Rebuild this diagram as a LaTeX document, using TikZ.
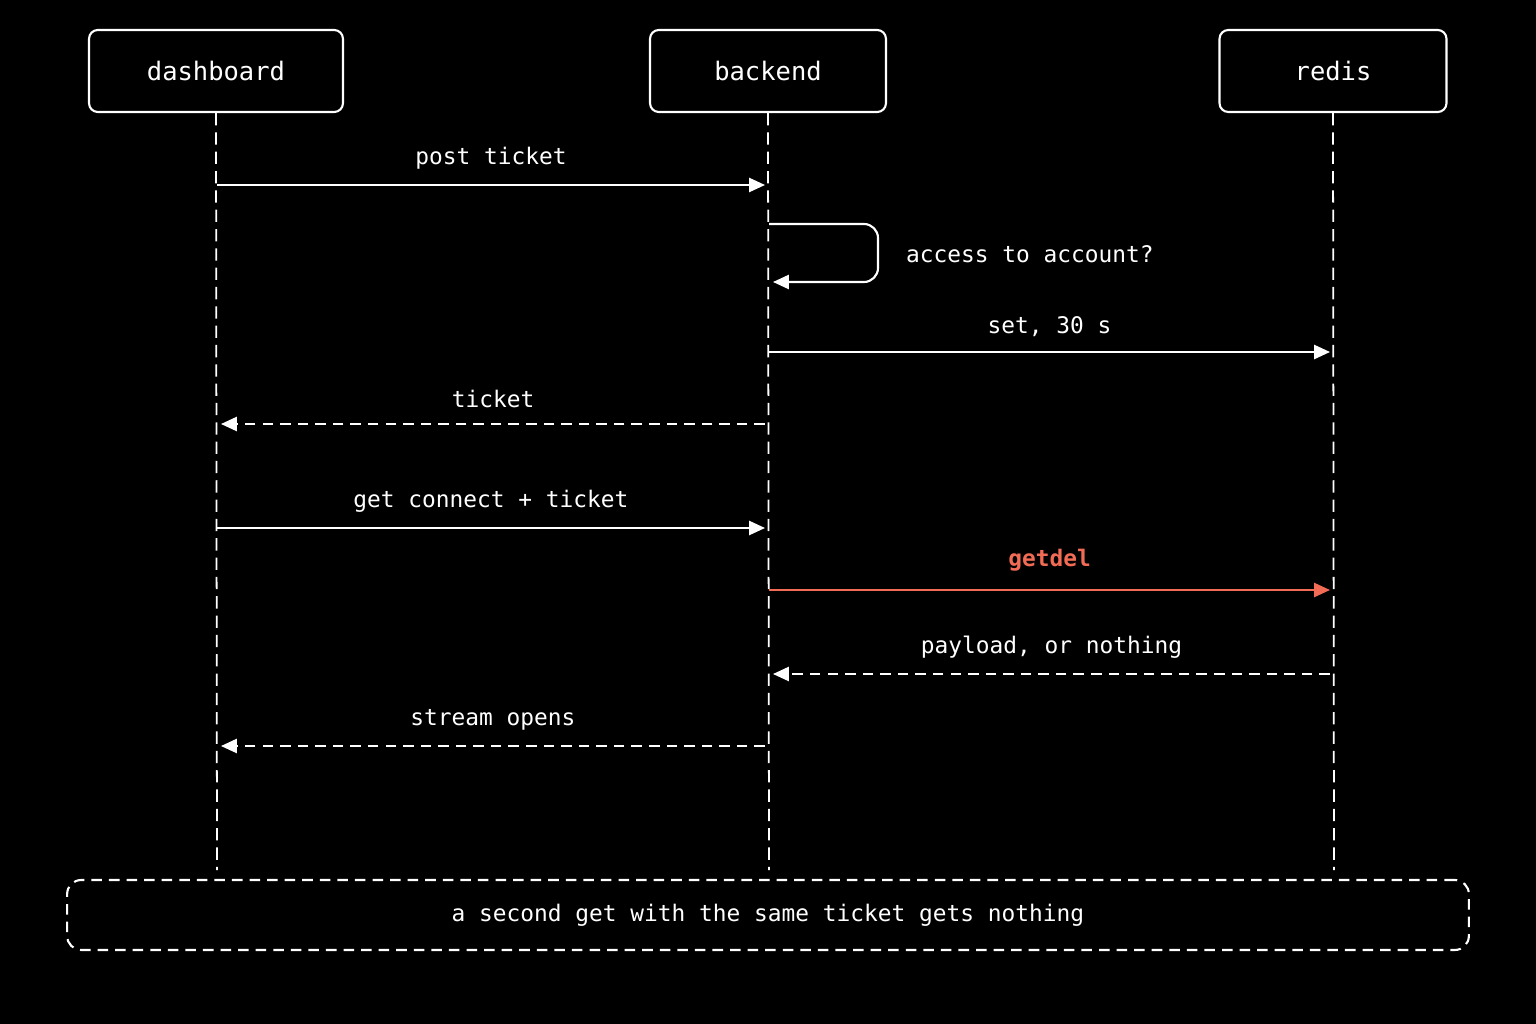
\documentclass[tikz,border=0pt]{standalone}
\usepackage{fontspec}
\setmonofont{DejaVu Sans Mono}
\usetikzlibrary{positioning,calc,arrows.meta}
\definecolor{hot}{HTML}{F26B55}
\begin{document}
\begin{tikzpicture}[
    x=0.02cm, y=-0.02cm,
    actor/.style={rectangle, rounded corners=5pt, draw=white, line width=1.2pt, fill=black, minimum height=1.64cm, text=white, font=\ttfamily\fontsize{14.5}{16}\selectfont},
    life/.style={white, dashed, line width=1pt, dash pattern=on 7pt off 4pt},
    msg/.style={white, line width=1.2pt, -{Triangle[length=9pt,width=8pt]}},
    reply/.style={msg, dash pattern=on 6pt off 4pt},
    lbl/.style={text=white, font=\ttfamily\fontsize{13}{15}\selectfont}
]
\fill[black] (0,0) rectangle (1536,1024);
\useasboundingbox (0,0) rectangle (1536,1024);

% Participants
\node[actor, minimum width=5.08cm] (dash) at (216,71) {dashboard};
\node[actor, minimum width=4.72cm] (back) at (768,71) {backend};
\node[actor, minimum width=4.54cm] (redis) at (1333,71) {redis};

% Closing note
\node[rectangle, rounded corners=8pt, draw=white, line width=1.2pt, dash pattern=on 6pt off 4pt, minimum width=28.04cm, minimum height=1.4cm, text=white, font=\ttfamily\fontsize{13}{15}\selectfont] (note) at (768,915) {a second get with the same ticket gets nothing};

% Lifelines
\foreach \p/\x in {dash/217, back/769, redis/1334} {
  \coordinate (\p-end) at (\x,870);
  \draw[life] (\p.south) -- (\p-end);
}

% Messages
\coordinate (m1a) at (217,185); \coordinate (m1b) at (765,185);
\draw[msg] (m1a) -- node[lbl, above=5pt] {post ticket} (m1b);

\coordinate (m2a) at (769,224); \coordinate (m2b) at (773,282);
\draw[msg, rounded corners=8pt] (m2a) -- (878,224) -- (878,282) -- (m2b);
\node[lbl, anchor=west] (m2l) at (900,254) {access to account?};

\coordinate (m3a) at (769,352); \coordinate (m3b) at (1330,352);
\draw[msg] (m3a) -- node[lbl, above=5pt] {set, 30 s} (m3b);

\coordinate (m4a) at (765,424); \coordinate (m4b) at (221,424);
\draw[reply] (m4a) -- node[lbl, above=5pt] {ticket} (m4b);

\coordinate (m5a) at (217,528); \coordinate (m5b) at (765,528);
\draw[msg] (m5a) -- node[lbl, above=5pt] {get connect + ticket} (m5b);

\coordinate (m6a) at (769,590); \coordinate (m6b) at (1330,590);
\draw[msg, hot] (m6a) -- node[lbl, text=hot, above=7pt, font=\ttfamily\bfseries\fontsize{13}{15}\selectfont] {getdel} (m6b);

\coordinate (m7a) at (1330,674); \coordinate (m7b) at (773,674);
\draw[reply] (m7a) -- node[lbl, above=5pt] {payload, or nothing} (m7b);

\coordinate (m8a) at (765,746); \coordinate (m8b) at (221,746);
\draw[reply] (m8a) -- node[lbl, above=5pt] {stream opens} (m8b);
\end{tikzpicture}
\end{document}
